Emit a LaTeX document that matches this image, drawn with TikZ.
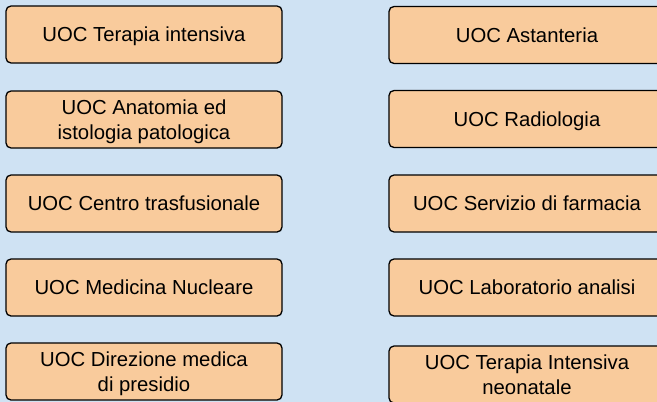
\documentclass[tikz,border=0pt]{standalone}
\usepackage{fontspec}
\setmainfont{Liberation Sans}
\usepackage{xcolor}
\usepackage{tikz}
\usetikzlibrary{positioning}

\definecolor{sfondo}{HTML}{CFE2F3}
\definecolor{arancio}{HTML}{F9CB9C}

\newcommand{\duerighe}[2]{\begin{tabular}[t]{@{}c@{}}#1\\#2\end{tabular}}

\begin{document}
\begin{tikzpicture}[x=1pt, y=-1pt,
  uoc/.style={draw=black, fill=arancio, line width=1.3pt, rounded corners=5pt, minimum width=276pt, minimum height=57pt, inner sep=0pt, text height=14.5pt, text depth=0pt, font=\fontsize{20.3}{24.7}\selectfont},
  uoc2/.style={uoc, text depth=24.7pt}
]

  % background
  \clip (0,0) rectangle (657,402);
  \fill[sfondo] (0,0) rectangle (657,402);

  % LEFT column
  \node (terapia) [uoc] at (144, 34.5) {UOC Terapia intensiva};
  \node (anatomia) [uoc2] at (144, 119.5) {\duerighe{UOC Anatomia ed}{istologia patologica}};
  \node (trasfusionale) [uoc] at (144, 203.5) {UOC Centro trasfusionale};
  \node (nucleare) [uoc] at (144, 287.5) {UOC Medicina Nucleare};
  \node (direzione) [uoc2] at (144, 371.5) {\duerighe{UOC Direzione medica}{di presidio}};

  % RIGHT column
  \node (astanteria) [uoc] at (527, 35) {UOC Astanteria};
  \node (radiologia) [uoc] at (527, 119) {UOC Radiologia};
  \node (farmacia) [uoc] at (527, 203.5) {UOC Servizio di farmacia};
  \node (laboratorio) [uoc] at (527, 287.5) {UOC Laboratorio analisi};
  \node (neonatale) [uoc2] at (527, 374.5) {\duerighe{UOC Terapia Intensiva}{neonatale}};

\end{tikzpicture}
\end{document}
